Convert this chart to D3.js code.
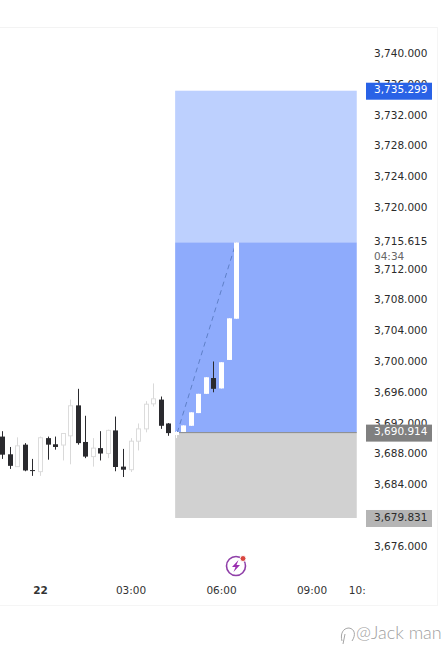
<!DOCTYPE html>
<html>
<head>
<meta charset="utf-8">
<script src="https://cdn.jsdelivr.net/npm/d3@7"></script>
<style>
html, body { margin: 0; padding: 0; background: #fff; overflow: hidden; }
text { font-family: "DejaVu Sans", sans-serif; }
</style>
</head>
<body>
<div id="chart"></div>
<script>
// candles, one every 15 minutes, hours counted from the "22" tick
var hours = [-1.25,-1,-0.75,-0.5,-0.25,0,0.25,0.5,0.75,1,1.25,1.5,1.75,2,2.25,2.5,2.75,3,3.25,3.5,3.75,4,4.25,4.5,4.75,5,5.25,5.5,5.75,6,6.25,6.5];
var open  = [3690.4,3688.1,3686.5,3689.35,3686.05,3685.85,3690.2,3689.4,3689.3,3690.5,3694.45,3689.7,3687.8,3688.9,3688.2,3691.2,3686.5,3686.1,3689.8,3691.4,3694.65,3695.2,3692.1,3690.6,3691.0,3691.8,3693.45,3695.95,3698.0,3696.65,3700.35,3705.7];
var high  = [3691.1,3689.05,3690.3,3689.55,3687.5,3690.4,3690.4,3690.4,3690.85,3695.2,3696.6,3693.1,3690.2,3691.1,3691.3,3693.0,3688.8,3690.2,3692.1,3695.0,3697.3,3695.6,3692.15,3691.1,3691.85,3693.55,3695.95,3698.1,3700.15,3700.05,3705.75,3715.6];
var low   = [3687.5,3686.2,3686.45,3685.9,3685.3,3685.3,3687.4,3688.7,3687.3,3686.8,3689.35,3687.6,3686.5,3687.3,3687.6,3685.9,3685.15,3685.8,3688.6,3690.95,3694.3,3691.4,3690.5,3690.2,3691.0,3691.8,3693.45,3695.95,3696.15,3696.65,3700.35,3705.7];
var close = [3688.05,3686.6,3689.2,3686.0,3686.0,3690.25,3689.35,3689.05,3690.8,3694.4,3689.55,3687.8,3688.9,3688.2,3691.2,3686.45,3686.1,3689.8,3691.4,3694.6,3695.3,3691.8,3690.85,3691.0,3691.85,3693.55,3695.95,3698.1,3696.6,3700.05,3705.75,3715.6];

// 3716 and 3680 sit fully under the price labels, so they are left out
var priceTicks = [3740,3736,3732,3728,3724,3720,3712,3708,3704,3700,3696,3692,3688,3684,3676];
var timeTicks = [0,3,6,9,10.5];
var timeLabels = ["22","03:00","06:00","09:00","10:"];

// long position tool
var targetPrice = 3735.299;
var lastPrice = 3715.615;
var entryPrice = 3690.914;
var stopPrice = 3679.831;
var boxStart = 4.48;
var boxEnd = 10.5;
var countdown = "04:34";

var w = 447, h = 666;
var svg = d3.select("#chart").append("svg")
    .attr("width", w)
    .attr("height", h)
    .style("display", "block");

var x = d3.scaleLinear().domain([0, 9]).range([40, 311.5]);
var y = d3.scaleLinear().domain([3740, 3676]).range([54.5, 547.5]);

// frame
svg.append("line").attr("x1", 0).attr("x2", 437).attr("y1", 27.5).attr("y2", 27.5).attr("stroke", "#f3f3f3");
svg.append("line").attr("x1", 0).attr("x2", 438).attr("y1", 605.5).attr("y2", 605.5).attr("stroke", "#f5f5f5");
svg.append("line").attr("x1", 437.5).attr("x2", 437.5).attr("y1", 27).attr("y2", 606).attr("stroke", "#f5f5f5");

// position boxes
function box(top, bottom, fill) {
    svg.append("rect")
        .attr("x", x(boxStart))
        .attr("width", x(boxEnd) - x(boxStart))
        .attr("y", y(top))
        .attr("height", y(bottom) - y(top))
        .attr("fill", fill);
}
box(targetPrice, lastPrice, "#bdd0fe");
box(lastPrice, entryPrice, "#8eabfc");
box(entryPrice, stopPrice, "#d1d1d1");
svg.append("line")
    .attr("x1", x(boxStart)).attr("x2", x(boxEnd))
    .attr("y1", y(entryPrice)).attr("y2", y(entryPrice))
    .attr("stroke", "#8a8a8a");

// forecast path
svg.append("line")
    .attr("x1", x(4.55)).attr("y1", y(entryPrice))
    .attr("x2", x(6.5)).attr("y2", y(lastPrice))
    .attr("stroke", "#5f80c8")
    .attr("stroke-width", 1)
    .attr("stroke-dasharray", "5 4");

// candles
var candles = svg.append("g").selectAll("g")
    .data(hours)
    .enter()
    .append("g");

function edge(d, i) {
    if (close[i] < open[i]) return "#2a2a2e";
    return d > boxStart ? "#ffffff" : "#d9d9d9";
}

candles.append("line")
    .attr("x1", function(d) { return Math.round(x(d)) + 0.5; })
    .attr("x2", function(d) { return Math.round(x(d)) + 0.5; })
    .attr("y1", function(d, i) { return y(high[i]); })
    .attr("y2", function(d, i) { return y(low[i]); })
    .attr("stroke", edge);

// white history candles get an outline, so their fill is one pixel narrower
candles.append("rect")
    .attr("x", function(d, i) {
        if (close[i] < open[i] || d > boxStart) return Math.round(x(d)) - 2;
        return Math.round(x(d)) - 1.5;
    })
    .attr("width", function(d, i) { return close[i] < open[i] || d > boxStart ? 5 : 4; })
    .attr("y", function(d, i) { return y(Math.max(open[i], close[i])); })
    .attr("height", function(d, i) { return Math.max(1, Math.abs(y(open[i]) - y(close[i]))); })
    .attr("fill", function(d, i) { return close[i] < open[i] ? "#2a2a2e" : "#ffffff"; })
    .attr("stroke", function(d, i) { return close[i] < open[i] || d > boxStart ? "none" : "#dcdcdc"; });

// price axis
var priceAxis = svg.append("g")
    .attr("transform", "translate(374,-1.5)")
    .call(d3.axisRight(y).tickValues(priceTicks).tickSize(0).tickPadding(0).tickFormat(d3.format(",.3f")));
priceAxis.select(".domain").remove();
priceAxis.selectAll("text")
    .attr("fill", "#2b2b2b")
    .style("font-family", '"DejaVu Sans", sans-serif')
    .style("font-size", "10.5px");

// time axis
var timeAxis = svg.append("g")
    .attr("transform", "translate(0,587)")
    .call(d3.axisBottom(x).tickValues(timeTicks).tickSize(0).tickPadding(0).tickFormat(function(d, i) { return timeLabels[i]; }));
timeAxis.select(".domain").remove();
timeAxis.selectAll("text")
    .attr("fill", "#333333")
    .style("font-family", '"DejaVu Sans", sans-serif')
    .style("font-size", "10.5px")
    .style("font-weight", function(d) { return d === 0 ? "bold" : "normal"; });

// price labels on the scale
var fmt = d3.format(",.3f");
function priceLabel(value, fill, color) {
    svg.append("rect")
        .attr("x", 366).attr("width", 66)
        .attr("y", y(value) - 8).attr("height", 17)
        .attr("fill", fill);
    svg.append("text")
        .attr("x", 374).attr("y", y(value) - 1)
        .attr("dy", "0.35em")
        .attr("font-size", 10.5)
        .attr("fill", color)
        .text(fmt(value));
}
priceLabel(targetPrice, "#2962e6", "#ffffff");
priceLabel(entryPrice, "#808080", "#ffffff");
priceLabel(stopPrice, "#b5b5b5", "#2b2b2b");

svg.append("text")
    .attr("x", 374).attr("y", y(lastPrice) - 1)
    .attr("dy", "0.35em")
    .attr("font-size", 10.5)
    .attr("fill", "#2b2b2b")
    .text(fmt(lastPrice));
svg.append("text")
    .attr("x", 374).attr("y", y(lastPrice) + 14)
    .attr("dy", "0.35em")
    .attr("font-size", 10.5)
    .attr("fill", "#666666")
    .text(countdown);

// event icon
var icon = svg.append("g").attr("transform", "translate(236,566)");
icon.append("circle").attr("r", 9.5).attr("fill", "none").attr("stroke", "#8f3fa8").attr("stroke-width", 1.6);
icon.append("path").attr("d", "M2.5,-6 L-4,1 L-0.5,1 L-2.5,6 L4,-1 L0.5,-1 Z").attr("fill", "#9a2fb0");
icon.append("circle").attr("cx", 7).attr("cy", -7.5).attr("r", 3).attr("fill", "#d9453f").attr("stroke", "#ffffff");

// watermark
var mark = svg.append("g");
mark.append("path")
    .attr("d", "M342,641 C340,634 343,628 349,628 C355,629 356,635 352,641 M345,634 L343,644")
    .attr("fill", "none")
    .attr("stroke", "#a5a5a5");
mark.append("text")
    .attr("x", 356).attr("y", 639)
    .attr("fill", "#a0a0a0")
    .style("font-family", "Lato, sans-serif")
    .style("font-weight", 300)
    .style("font-size", "18px")
    .text("@Jack man");
</script>
</body>
</html>
